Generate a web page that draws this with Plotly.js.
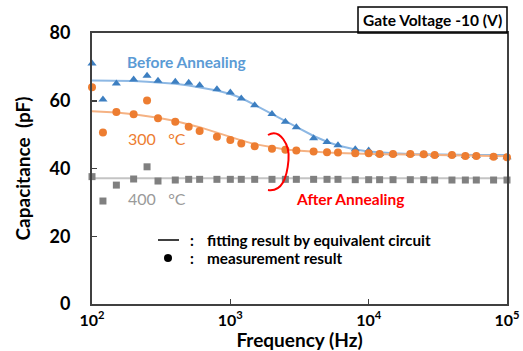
<!DOCTYPE html>
<html>
<head>
<meta charset="utf-8">
<script src="https://cdn.plot.ly/plotly-3.0.1.min.js"></script>
<style>html,body{margin:0;padding:0;background:#fff;}#chart{width:523px;height:351px;}</style>
</head>
<body>
<div id="chart"></div>
<script>
// Frequencies (Hz)
var freq = [100,120,150,200,250,300,400,500,600,800,1000,1200,1500,2000,2500,3000,4000,5000,6000,8000,10000,12000,15000,20000,25000,30000,40000,50000,60000,80000,100000];

// Measurement results (pF)
var beforeMeas = [71.0,60.4,65.1,66.3,67.4,65.9,65.6,65.3,64.6,63.4,62.4,60.7,58.7,56.1,53.8,52.2,48.9,47.8,46.9,45.7,45.3,44.3,44.3,44.3,44.2,44.0,44.0,43.7,43.7,43.5,43.3];
var ann300Meas = [64.0,50.6,56.7,56.0,60.1,54.8,53.8,52.3,51.1,49.4,48.4,47.4,46.6,45.8,45.5,45.3,45.0,44.8,44.7,44.5,44.5,44.3,44.3,44.3,44.2,44.0,44.0,43.7,43.7,43.5,43.3];
var ann400Meas = [37.6,30.4,35.1,36.9,40.5,36.3,36.6,36.8,36.8,36.8,36.8,36.8,36.8,36.8,36.8,36.8,36.8,36.8,36.8,36.7,36.7,36.7,36.7,36.7,36.7,36.6,36.6,36.6,36.6,36.6,36.6];

// Fitting results by equivalent circuit (pF)
var beforeFit = [66.0,66.0,65.9,65.8,65.6,65.4,65.0,64.5,64.0,63.0,62.0,60.8,58.8,56.2,54.0,52.3,49.6,47.9,46.8,45.6,45.0,44.7,44.5,44.3,44.2,44.2,44.1,44.1,44.0,44.0,44.0];
var ann300Fit = [56.9,56.8,56.5,56.0,55.5,55.0,54.0,53.0,52.2,50.6,49.3,48.3,47.2,46.2,45.6,45.3,44.9,44.7,44.6,44.4,44.3,44.2,44.2,44.1,44.0,44.0,43.9,43.8,43.8,43.7,43.6];
var ann400Fit = [37.1,37.1,37.1,37.1,37.1,37.1,37.1,37.1,37.1,37.1,37.1,37.1,37.1,37.1,37.1,37.1,37.1,37.1,37.1,37.1,37.1,37.1,37.1,37.1,37.1,37.1,37.1,37.1,37.1,37.1,37.1];

// Axis ticks
var xTickVals = [100,1000,10000,100000];
var xTickText = ['10<sup>2</sup>','10<sup>3</sup>','10<sup>4</sup>','10<sup>5</sup>'];
var yTickVals = [0,20,40,60,80];

var FONT = 'Lato, "Open Sans", sans-serif';

var traces = [
  {x: freq, y: ann400Fit, mode: 'lines', line: {color: '#c4c4c4', width: 2}, hoverinfo: 'skip', cliponaxis: false},
  {x: freq, y: beforeFit, mode: 'lines', line: {color: '#8db8e4', width: 2}, hoverinfo: 'skip', cliponaxis: false},
  {x: freq, y: ann300Fit, mode: 'lines', line: {color: '#f5b283', width: 2}, hoverinfo: 'skip', cliponaxis: false},
  {x: freq, y: ann400Meas, mode: 'markers', marker: {symbol: 'square', size: 7, color: '#808080'}, cliponaxis: false},
  {x: freq, y: beforeMeas, mode: 'markers', marker: {symbol: 'triangle-up', size: 8, color: '#3d7fc1'}, cliponaxis: false},
  {x: freq, y: ann300Meas, mode: 'markers', marker: {symbol: 'circle', size: 8, color: '#ed7d31'}, cliponaxis: false}
];

function px(x){ return (x-92)/415; }
function py(y){ return (304-y)/271; }

var layout = {
  width: 523, height: 351,
  margin: {l: 92, r: 16, t: 33, b: 47},
  paper_bgcolor: '#ffffff', plot_bgcolor: '#ffffff',
  showlegend: false,
  font: {family: FONT, color: '#000'},
  xaxis: {
    type: 'log', range: [2, 5],
    tickvals: xTickVals, ticktext: xTickText,
    ticks: 'inside', ticklen: 5, tickwidth: 1.5, tickcolor: '#404040',
    showline: true, linecolor: '#404040', linewidth: 2, mirror: true,
    showgrid: false, zeroline: false,
    tickfont: {family: FONT, size: 16, color: '#000', weight: 'bold'},
    ticklabelstandoff: 1,
    title: {text: 'Frequency (Hz)', font: {family: FONT, size: 19, color: '#000', weight: 'bold'}, standoff: 1}
  },
  yaxis: {
    range: [0, 80], tickvals: yTickVals,
    ticks: 'inside', ticklen: 5, tickwidth: 1.5, tickcolor: '#404040',
    showline: true, linecolor: '#404040', linewidth: 2, mirror: true,
    showgrid: false, zeroline: false,
    tickfont: {family: FONT, size: 18, color: '#000', weight: 'bold'},
    ticklabelstandoff: 16,
    title: {text: 'Capacitance  (pF)', font: {family: FONT, size: 19, color: '#000', weight: 'bold'}, standoff: 14}
  },
  shapes: [
    {type: 'rect', xref: 'paper', yref: 'paper', x0: px(358), x1: px(507), y0: py(33), y1: py(7), line: {color: '#000', width: 1.5}},
    {type: 'path', xref: 'paper', yref: 'paper',
     path: 'M ' + px(268) + ',' + py(135) + ' C ' + px(280) + ',' + py(128) + ' ' + px(290) + ',' + py(145) + ' ' + px(288.5) + ',' + py(160) +
           ' C ' + px(287) + ',' + py(178) + ' ' + px(282) + ',' + py(192) + ' ' + px(268) + ',' + py(190),
     line: {color: '#ff0000', width: 2}},
    {type: 'line', xref: 'paper', yref: 'paper', x0: px(158), x1: px(179), y0: py(240), y1: py(240), line: {color: '#000', width: 1.5}},
    {type: 'circle', xref: 'paper', yref: 'paper', x0: px(164), x1: px(172), y0: py(262), y1: py(254), fillcolor: '#000', line: {color: '#000', width: 0}}
  ],
  annotations: [
    {xref: 'paper', yref: 'paper', x: px(432.5), y: py(20), text: 'Gate Voltage -10 (V)', showarrow: false, xanchor: 'center', yanchor: 'middle', font: {family: FONT, size: 15.5, color: '#000', weight: 'bold'}},
    {xref: 'paper', yref: 'paper', x: px(186), y: py(62), text: 'Before Annealing', showarrow: false, xanchor: 'center', yanchor: 'middle', font: {family: FONT, size: 15.5, color: '#5b9bd5', weight: 'bold'}},
    {xref: 'paper', yref: 'paper', x: px(126), y: py(138), text: '300 \u00a0 \u00b0C', showarrow: false, xanchor: 'left', yanchor: 'middle', font: {family: FONT, size: 16, color: '#ed7d31'}},
    {xref: 'paper', yref: 'paper', x: px(126), y: py(198), text: '400 \u00a0 \u00b0C', showarrow: false, xanchor: 'left', yanchor: 'middle', font: {family: FONT, size: 16, color: '#9a9a9a'}},
    {xref: 'paper', yref: 'paper', x: px(350), y: py(199), text: 'After Annealing', showarrow: false, xanchor: 'center', yanchor: 'middle', font: {family: FONT, size: 15.5, color: '#ff0000', weight: 'bold'}},
    {xref: 'paper', yref: 'paper', x: px(192), y: py(240), text: ':', showarrow: false, xanchor: 'center', yanchor: 'middle', font: {family: FONT, size: 15, color: '#000', weight: 'bold'}},
    {xref: 'paper', yref: 'paper', x: px(192), y: py(258), text: ':', showarrow: false, xanchor: 'center', yanchor: 'middle', font: {family: FONT, size: 15, color: '#000', weight: 'bold'}},
    {xref: 'paper', yref: 'paper', x: px(205), y: py(240), text: 'fitting result by equivalent circuit', showarrow: false, xanchor: 'left', yanchor: 'middle', font: {family: FONT, size: 15.3, color: '#000', weight: 'bold'}},
    {xref: 'paper', yref: 'paper', x: px(205), y: py(258), text: 'measurement result', showarrow: false, xanchor: 'left', yanchor: 'middle', font: {family: FONT, size: 15.3, color: '#000', weight: 'bold'}}
  ]
};

Plotly.newPlot('chart', traces, layout, {staticPlot: true, displayModeBar: false});
</script>
</body>
</html>
